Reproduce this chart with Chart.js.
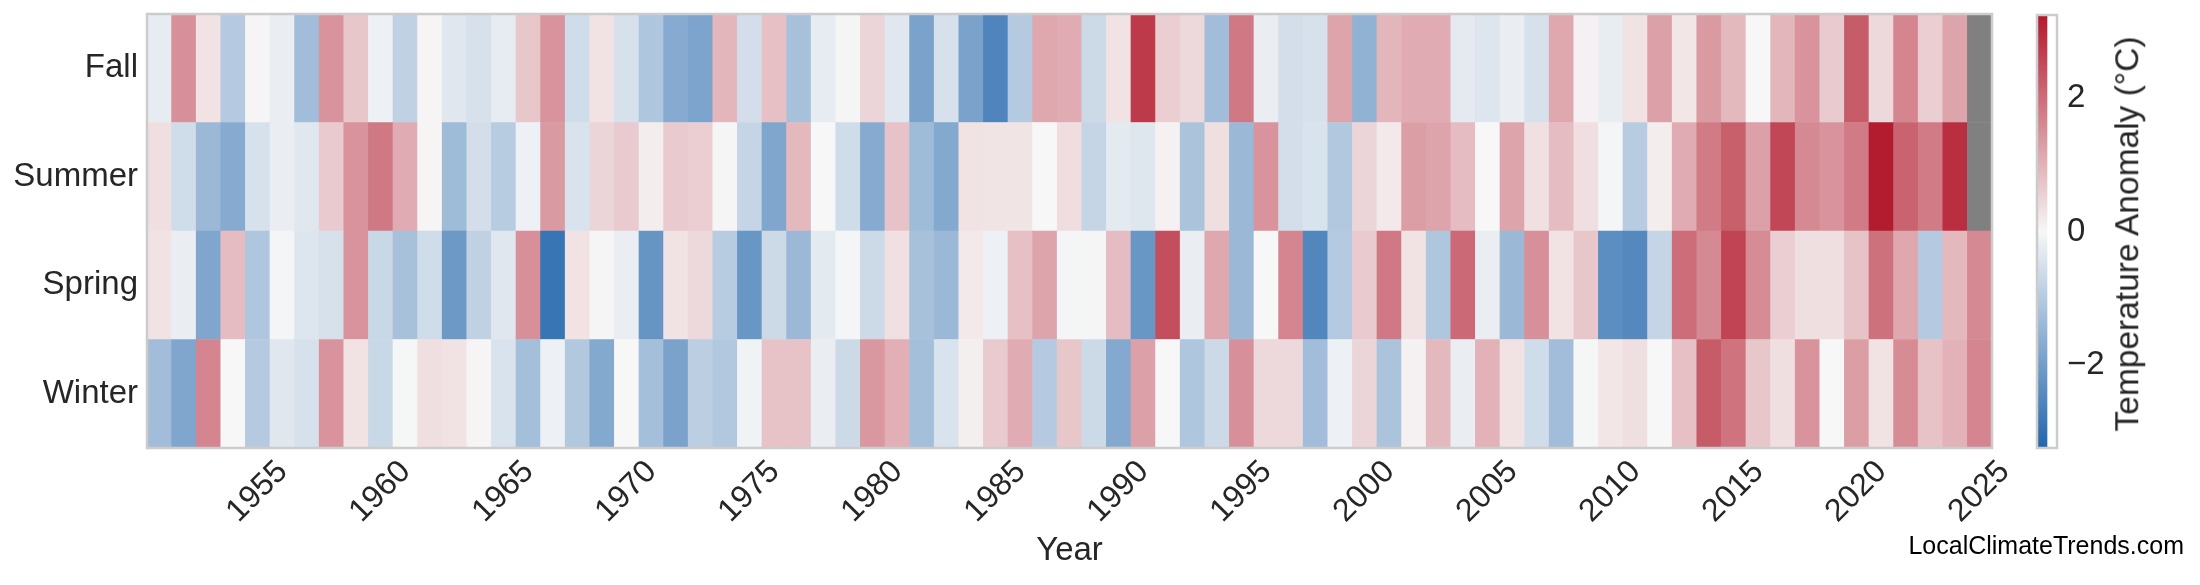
<!DOCTYPE html>
<html>
<head>
<meta charset="utf-8">
<script src="https://cdn.jsdelivr.net/npm/chart.js@4.4.1/dist/chart.umd.min.js"></script>
<style>
  html, body { margin: 0; padding: 0; background: #ffffff; }
  #wrap { position: relative; width: 2200px; height: 585px; overflow: hidden; background: #fff; font-family: "Liberation Sans", Arial, sans-serif; }
  canvas { position: absolute; left: 0; top: 0; }
  #cblabel { position: absolute; left: 2127px; top: 234px; transform: translate(-50%, -50%) rotate(-90deg); white-space: nowrap; font-size: 33.5px; color: #262626; line-height: 1; }
  #credit { position: absolute; right: 16px; top: 530px; font-size: 25px; color: #000; white-space: nowrap; line-height: 1.2; }
</style>
</head>
<body>
<div id="wrap">
  <canvas id="main" width="2200" height="585"></canvas>
  <canvas id="cbar" width="2200" height="585"></canvas>
  <div id="cblabel">Temperature Anomaly (°C)</div>
  <div id="credit">LocalClimateTrends.com</div>
</div>
<script>
// ---- data ----
const years = [1951,1952,1953,1954,1955,1956,1957,1958,1959,1960,1961,1962,1963,1964,1965,1966,1967,1968,1969,1970,
  1971,1972,1973,1974,1975,1976,1977,1978,1979,1980,1981,1982,1983,1984,1985,1986,1987,1988,1989,1990,
  1991,1992,1993,1994,1995,1996,1997,1998,1999,2000,2001,2002,2003,2004,2005,2006,2007,2008,2009,2010,
  2011,2012,2013,2014,2015,2016,2017,2018,2019,2020,2021,2022,2023,2024,2025];
const seasons = ["Winter", "Spring", "Summer", "Fall"];   // bottom to top
const winter = [-1.3,-1.8,1.65,0.0,-1.0,-0.35,-0.5,1.45,0.3,-0.7,-0.03,0.35,0.3,0.05,-0.45,-1.25,-0.15,-1.05,-1.75,0.0,
  -1.25,-1.9,-0.9,-1.05,-0.1,0.75,0.75,-0.2,-0.65,1.4,1.05,-1.25,-0.45,0.12,0.65,1.1,-1.0,0.7,-0.65,-1.75,
  1.25,0.0,-1.1,-0.65,1.5,0.45,0.45,-1.3,-0.15,0.5,-1.15,0.08,0.9,-0.2,1.0,0.3,-0.6,-1.3,-0.03,0.25,
  0.35,0.0,0.8,2.25,1.9,0.7,0.35,1.45,0.0,1.3,0.3,1.55,0.75,1.0,1.65];
const spring = [0.3,-0.2,-1.8,0.85,-1.1,-0.05,-0.4,-0.5,1.45,-0.7,-1.2,-0.6,-2.1,-0.85,-0.35,1.5,-2.9,0.3,0.03,-0.2,
  -2.2,0.3,0.45,-0.95,-2.15,-0.65,-1.4,-0.3,-0.05,-0.65,0.33,-1.2,-1.4,0.2,-0.15,0.8,1.2,-0.05,0.03,0.85,
  -2.15,2.45,-0.2,1.15,-1.4,0.0,1.65,-2.5,-1.0,0.65,1.85,0.3,-1.1,2.05,-0.2,-1.4,1.5,0.3,0.7,-2.35,
  -2.45,-0.75,2.0,1.6,2.6,1.55,0.6,0.35,0.35,0.75,1.95,1.15,-1.0,0.9,1.6];
const summer = [0.35,-0.6,-1.4,-1.7,-0.5,-0.2,-0.35,0.65,1.45,1.85,1.1,0.05,-1.35,-0.55,-0.95,-0.15,1.35,-0.45,0.5,0.65,
  0.15,0.65,0.6,0.03,-0.75,-1.8,0.9,0.0,-0.6,-1.7,0.75,-1.35,-1.75,0.3,0.28,0.28,0.0,0.38,-0.75,-0.3,
  -0.38,0.1,-1.15,0.35,-1.4,1.45,-0.55,-0.45,-1.05,0.5,0.2,1.3,1.2,0.85,0.0,1.2,0.33,0.85,0.35,-0.05,
  -0.95,0.15,1.1,1.8,2.2,1.25,2.55,1.6,1.45,1.8,3.2,2.15,1.8,2.9,null];
const fall = [-0.25,1.5,0.3,-1.0,0.05,-0.2,-1.3,1.45,0.7,-0.15,-0.85,0.05,-0.35,-0.5,-0.25,0.7,1.45,-0.6,0.3,-0.5,
  -1.1,-1.7,-1.85,0.95,-0.55,0.8,-1.2,-0.25,0.03,0.5,-0.35,-1.9,-0.5,-1.9,-2.55,-1.0,1.15,1.1,-0.65,0.3,
  2.75,0.6,0.45,-1.3,1.85,-0.2,-0.55,-0.5,1.2,-1.55,0.95,1.1,1.1,-0.28,-0.4,-0.2,-0.5,1.15,0.08,-0.22,
  0.3,1.25,0.25,1.35,0.9,0.0,0.95,1.45,0.65,2.25,0.45,1.65,0.6,1.2,null];
const seriesBySeason = [winter, spring, summer, fall];
const cbTicks = [-2, 0, 2];
const VMAX = 3.24;

// ---- colour map (blue - white - red) ----
const C_LO = [33, 102, 172], C_MID = [247, 247, 247], C_HI = [178, 24, 43];
function lerp(a, b, t) { return a.map((x, i) => Math.round(x + (b[i] - x) * t)); }
function cmap(v) {
  if (v === null || v === undefined) return "#808080";
  let t = Math.max(-1, Math.min(1, v / VMAX));
  const c = t >= 0 ? lerp(C_MID, C_HI, t) : lerp(C_MID, C_LO, -t);
  return "rgb(" + c.join(",") + ")";
}

const FONT = "'Liberation Sans', Arial, sans-serif";
const TXT = "#262626";
Chart.defaults.font.family = FONT;
Chart.defaults.color = TXT;

const frame = {
  id: "frame",
  afterDraw(chart) {
    const a = chart.chartArea, ctx = chart.ctx;
    ctx.save();
    ctx.strokeStyle = "#cccccc";
    ctx.lineWidth = 2.5;
    ctx.strokeRect(a.left, a.top, a.right - a.left, a.bottom - a.top);
    ctx.restore();
  }
};

// ---- heatmap ----
const datasets = seriesBySeason.map((vals, k) => ({
  label: seasons[k],
  data: vals.map(() => [k, k + 1]),
  backgroundColor: (ctx) => cmap(vals[ctx.dataIndex]),
  borderWidth: 0,
  barPercentage: 1,
  categoryPercentage: 1
}));

new Chart(document.getElementById("main"), {
  type: "bar",
  data: { labels: years.map(String), datasets },
  options: {
    responsive: false,
    animation: false,
    devicePixelRatio: 1,
    layout: { padding: { left: 0, top: 14, right: 208, bottom: 0 } },
    plugins: { legend: { display: false }, tooltip: { enabled: false } },
    scales: {
      x: {
        stacked: true,
        offset: true,
        grid: { display: false, drawTicks: false },
        border: { display: false },
        ticks: {
          autoSkip: false, minRotation: 45, maxRotation: 45,
          font: { size: 32 }, color: TXT, padding: 5, labelOffset: 25,
          callback: function (val, i) { return years[i] % 5 === 0 ? String(years[i]) : ""; }
        },
        title: { display: true, text: "Year", font: { size: 33 }, color: TXT, padding: { top: 0, bottom: 14 } },
        afterFit: (s) => { s.height = 137; s.paddingLeft = 0; s.paddingRight = 0; }
      },
      y: {
        min: 0, max: 4,
        grid: { display: false, drawTicks: false },
        border: { display: false },
        afterBuildTicks: (s) => { s.ticks = seasons.map((_, k) => ({ value: k + 0.5 })); },
        ticks: {
          font: { size: 33 }, color: TXT, padding: 9,
          callback: (v) => seasons[Math.floor(v)]
        },
        afterFit: (s) => { s.width = 147; s.paddingTop = 0; s.paddingBottom = 0; }
      }
    }
  },
  plugins: [frame]
});

// ---- colour bar ----
new Chart(document.getElementById("cbar"), {
  type: "bar",
  data: {
    labels: ["cb"],
    datasets: [{
      data: [[-VMAX, VMAX]],
      borderWidth: 0,
      barPercentage: 1,
      categoryPercentage: 1,
      backgroundColor: (ctx) => {
        const a = ctx.chart.chartArea;
        if (!a) return "#ccc";
        const g = ctx.chart.ctx.createLinearGradient(0, a.bottom, 0, a.top);
        g.addColorStop(0, cmap(-VMAX));
        g.addColorStop(0.5, cmap(0));
        g.addColorStop(1, cmap(VMAX));
        return g;
      }
    }]
  },
  options: {
    responsive: false,
    animation: false,
    devicePixelRatio: 1,
    layout: { padding: { left: 2037, top: 15, right: 43, bottom: 137 } },
    plugins: { legend: { display: false }, tooltip: { enabled: false } },
    scales: {
      x: { display: false, offset: false },
      y: {
        position: "right",
        min: -VMAX, max: VMAX,
        grid: { display: false, drawTicks: false },
        border: { display: false },
        afterBuildTicks: (s) => { s.ticks = cbTicks.map(v => ({ value: v })); },
        ticks: {
          font: { size: 33 }, color: TXT, padding: 10,
          callback: (v) => (v < 0 ? "\u2212" + Math.abs(v) : String(v))
        },
        afterFit: (s) => { s.width = 100; s.paddingTop = 0; s.paddingBottom = 0; }
      }
    }
  },
  plugins: [frame]
});
</script>
</body>
</html>
